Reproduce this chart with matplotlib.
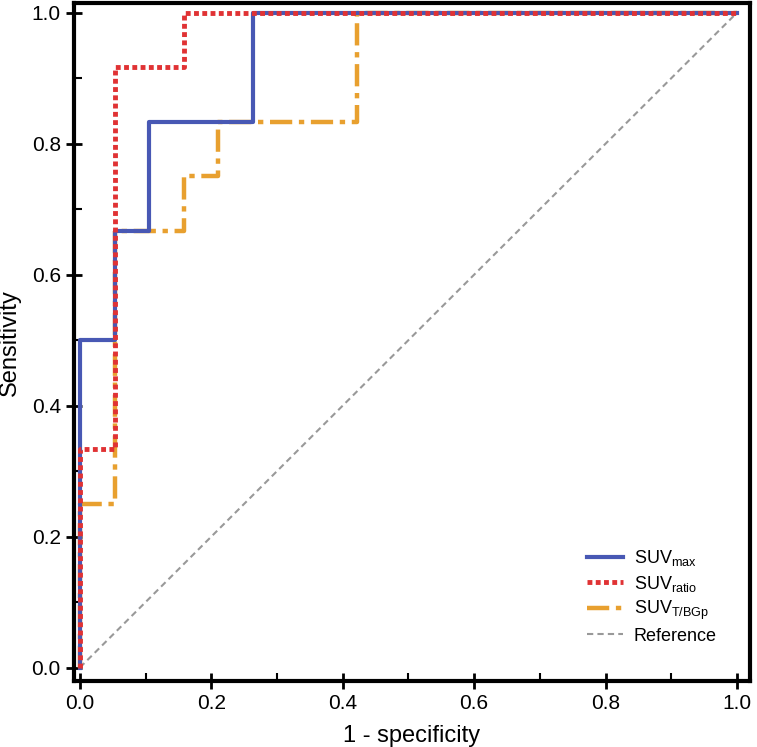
import numpy as np
import matplotlib.pyplot as plt
from matplotlib.ticker import MultipleLocator

plt.rcParams['font.family'] = ['Liberation Sans', 'DejaVu Sans']
plt.rcParams['mathtext.fontset'] = 'custom'
plt.rcParams['mathtext.rm'] = 'Liberation Sans'
plt.rcParams['mathtext.it'] = 'Liberation Sans'

# ROC step points (1 - specificity, sensitivity)
suvmax_fpr = [0, 0, 1/19, 1/19, 2/19, 2/19, 5/19, 5/19, 1]
suvmax_tpr = [0, 6/12, 6/12, 8/12, 8/12, 10/12, 10/12, 1, 1]

suvratio_fpr = [0, 0, 1/19, 1/19, 3/19, 3/19, 1]
suvratio_tpr = [0, 4/12, 4/12, 11/12, 11/12, 1, 1]

suvtbg_fpr = [0, 0, 1/19, 1/19, 3/19, 3/19, 4/19, 4/19, 8/19, 8/19, 1]
suvtbg_tpr = [0, 3/12, 3/12, 8/12, 8/12, 9/12, 9/12, 10/12, 10/12, 1, 1]

ref_x = [0, 1]
ref_y = [0, 1]

fig = plt.figure(figsize=(7.57, 7.47), dpi=100)
ax = fig.add_axes([0.0978, 0.088, 0.893, 0.908])

ax.plot(ref_x, ref_y, color="#999999", linestyle=(0, (3, 2)), linewidth=1.5, label="Reference", zorder=1)
ax.plot(suvtbg_fpr, suvtbg_tpr, color="#E8A02F", linestyle=(0, (5, 1.5, 1.2, 1.5)), linewidth=3.2,
        label=r"SUV$_{\mathregular{T/BGp}}$", zorder=2)
ax.plot(suvmax_fpr, suvmax_tpr, color="#4858B4", linestyle="solid", linewidth=3,
        label=r"SUV$_{\mathregular{max}}$", zorder=3)
ax.plot(suvratio_fpr, suvratio_tpr, color="#E03234", linestyle=(0, (1.0, 0.7)), linewidth=3.5,
        label=r"SUV$_{\mathregular{ratio}}$", zorder=4)

ax.set_xlim(-0.009, 1.02)
ax.set_ylim(-0.021, 1.015)
ax.xaxis.set_major_locator(MultipleLocator(0.2))
ax.yaxis.set_major_locator(MultipleLocator(0.2))
ax.xaxis.set_minor_locator(MultipleLocator(0.1))
ax.yaxis.set_minor_locator(MultipleLocator(0.1))
ax.xaxis.set_major_formatter(plt.FormatStrFormatter('%.1f'))
ax.yaxis.set_major_formatter(plt.FormatStrFormatter('%.1f'))
ax.tick_params(which='major', direction='inout', length=12, width=2, labelsize=15)
ax.tick_params(which='minor', direction='in', length=6, width=1.5)
for s in ax.spines.values():
    s.set_linewidth(3)

ax.set_xlabel("1 - specificity", fontsize=17, labelpad=8)
ax.set_ylabel("Sensitivity", fontsize=17)
ax.yaxis.set_label_coords(-0.078, 0.5)

handles, labels = ax.get_legend_handles_labels()
order = [2, 3, 1, 0]
ax.legend([handles[i] for i in order], [labels[i] for i in order], loc="lower right",
          frameon=False, fontsize=13, handlelength=2.0, handletextpad=0.6,
          labelspacing=0.3, bbox_to_anchor=(0.975, 0.03))

fig.savefig("out.png", dpi=100)
